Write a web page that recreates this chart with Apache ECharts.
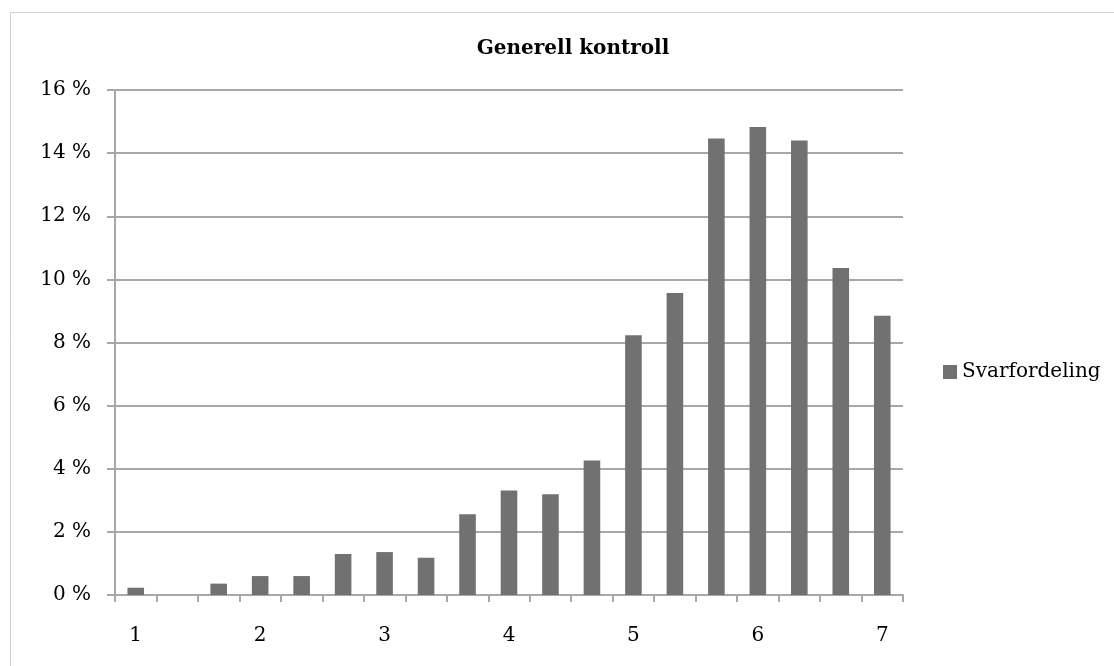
<!DOCTYPE html>
<html>
<head>
<meta charset="utf-8">
<title>Generell kontroll</title>
<script src="https://cdn.jsdelivr.net/npm/echarts@6/dist/echarts.min.js"></script>
<style>
  html, body { margin: 0; padding: 0; background: #ffffff; }
  #chart { width: 1114px; height: 666px; }
</style>
</head>
<body>
<div id="chart"></div>
<script>
// Score categories (1 to 7 in thirds); only whole scores are labelled
const categories = ['1', '1,33', '1,67', '2', '2,33', '2,67', '3', '3,33', '3,67', '4',
  '4,33', '4,67', '5', '5,33', '5,67', '6', '6,33', '6,67', '7'];
// Share of answers per score, in percent
const svarfordeling = [0.23, 0, 0.36, 0.60, 0.60, 1.30, 1.36, 1.18, 2.56, 3.31,
  3.19, 4.26, 8.23, 9.57, 14.46, 14.83, 14.40, 10.36, 8.85];
// Value axis ticks (percent)
const yTicks = [0, 2, 4, 6, 8, 10, 12, 14, 16];

const FONT = '"DejaVu Serif", "Liberation Serif", serif';
const AXIS_GREY = '#a8a8a8';

const chart = echarts.init(document.getElementById('chart'), null, { renderer: 'canvas' });

chart.setOption({
  backgroundColor: '#ffffff',
  animation: false,
  title: {
    text: 'Generell kontroll',
    left: 568,
    top: 34,
    textAlign: 'center',
    textStyle: { fontFamily: FONT, fontWeight: 'bold', fontSize: 20, color: '#000000' }
  },
  legend: {
    data: ['Svarfordeling'],
    orient: 'vertical',
    left: 943,
    top: 362,
    padding: 0,
    itemWidth: 14,
    itemHeight: 14,
    itemGap: 5,
    icon: 'rect',
    textStyle: { fontFamily: FONT, fontSize: 20, color: '#000000' }
  },
  grid: { left: 115, right: 211, top: 90, bottom: 71, containLabel: false },
  xAxis: {
    type: 'category',
    data: categories,
    boundaryGap: true,
    axisLine: { show: true, lineStyle: { color: AXIS_GREY, width: 2 } },
    axisTick: { show: true, interval: 0, length: 7, alignWithLabel: false, lineStyle: { color: AXIS_GREY, width: 2 } },
    axisLabel: {
      interval: 2,
      margin: 31,
      fontFamily: FONT,
      fontSize: 20,
      color: '#000000'
    },
    splitLine: { show: false }
  },
  yAxis: {
    type: 'value',
    min: yTicks[0],
    max: yTicks[yTicks.length - 1],
    interval: yTicks[1] - yTicks[0],
    axisLine: { show: true, lineStyle: { color: AXIS_GREY, width: 2 } },
    axisTick: { show: true, length: 8, inside: false, lineStyle: { color: AXIS_GREY, width: 2 } },
    axisLabel: {
      margin: 24,
      fontFamily: FONT,
      fontSize: 20,
      color: '#000000',
      formatter: '{value} %'
    },
    splitLine: { show: true, lineStyle: { color: AXIS_GREY, width: 2 } }
  },
  series: [{
    name: 'Svarfordeling',
    type: 'bar',
    data: svarfordeling,
    barWidth: '40%',
    itemStyle: { color: '#717171' }
  }],
  graphic: [{
    type: 'rect',
    shape: { x: 10.5, y: 12.5, width: 1200, height: 800 },
    style: { fill: 'none', stroke: '#d0d0d0', lineWidth: 1 },
    silent: true,
    z: -1
  }]
});
</script>
</body>
</html>
